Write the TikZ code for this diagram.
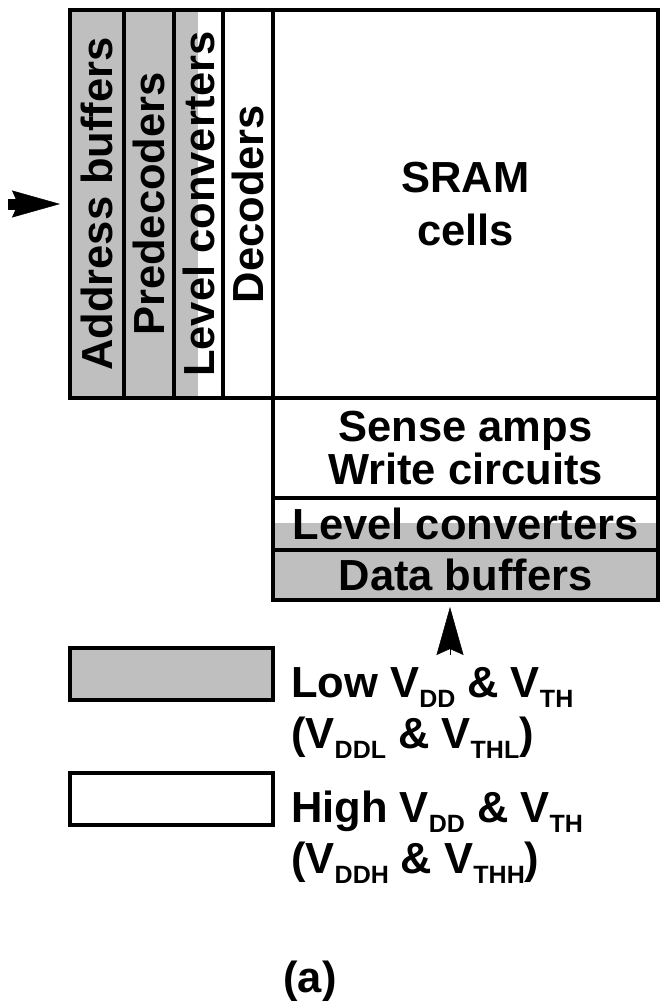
\documentclass[tikz,border=0pt]{standalone}
\usepackage{fontspec}
\setmainfont{Liberation Sans}
\usepackage{tikz}
\usetikzlibrary{positioning, arrows.meta, calc}

\definecolor{lowgray}{gray}{0.75}
\newcommand{\vsub}[1]{\raisebox{-10pt}{\fontsize{25}{25}\selectfont #1}}

\begin{document}
\begin{tikzpicture}[x=1pt, y=-1pt,
    >={Stealth[length=48pt, width=27pt, inset=6pt, line width=0.5pt]},
    blk/.style={draw, line width=3.5pt, inner sep=0pt, outer sep=0pt, align=center,
      font=\bfseries\fontsize{43.5}{53}\selectfont},
    lowblk/.style={blk, fill=lowgray},
    keytext/.style={align=left, inner sep=0pt, font=\bfseries\fontsize{43.5}{51}\selectfont}]
    \useasboundingbox (0,0) rectangle (660,1006);
    % level converters are half low, half high
    \fill[lowgray] (174,10) rectangle (198,398);
    \fill[lowgray] (273,523) rectangle (658,550);
    % row side (rotated columns)
    \node[lowblk, rotate=90, minimum width=388pt, minimum height=54pt] (addr) at (97,204) {Address buffers};
    \node[lowblk, rotate=90, minimum width=388pt, minimum height=50pt] (predec) at (149,204) {Predecoders};
    \node[blk, rotate=90, minimum width=388pt, minimum height=49pt] (rowlvl) at (198.5,204) {Level converters};
    \node[blk, rotate=90, minimum width=388pt, minimum height=50pt] (dec) at (248,204) {Decoders};
    % array and column side
    \node[blk, minimum width=385pt, minimum height=388pt] (cells) at (465.5,204) {SRAM\\cells};
    \node[blk, minimum width=385pt, minimum height=100pt,
      font=\bfseries\fontsize{43.5}{43}\selectfont] (sense) at (465.5,448) {Sense amps\\Write circuits};
    \node[blk, minimum width=385pt, minimum height=52pt] (collvl) at (465.5,524) {Level converters};
    \node[lowblk, minimum width=385pt, minimum height=50pt] (data) at (465.5,575) {Data buffers};
    % inputs
    \coordinate (addrin) at (8,204);
    \draw[->, line width=11pt] (addrin) -- ($(addr.north)+(-10,0)$);
    \coordinate (datain) at (450,655);
    \draw[->, line width=0.5pt] (datain) -- ([yshift=-7pt]datain |- data.south);
    % legend (base = last line)
    \node[lowblk, minimum width=203pt, minimum height=52pt] (lowkey) at (171.5,674) {};
    \node[blk, minimum width=203pt, minimum height=52pt] (highkey) at (171.5,799) {};
    \node[keytext, anchor=base west] (lowtxt) at (291,748)
      {Low V\vsub{DD} \& V\vsub{TH}\\(V\vsub{DDL} \& V\vsub{THL})};
    \node[keytext, anchor=base west] (hightxt) at (291,873)
      {High V\vsub{DD} \& V\vsub{TH}\\(V\vsub{DDH} \& V\vsub{THH})};
    \node[keytext, anchor=base] (caption) at (310,992) {(a)};
\end{tikzpicture}
\end{document}
